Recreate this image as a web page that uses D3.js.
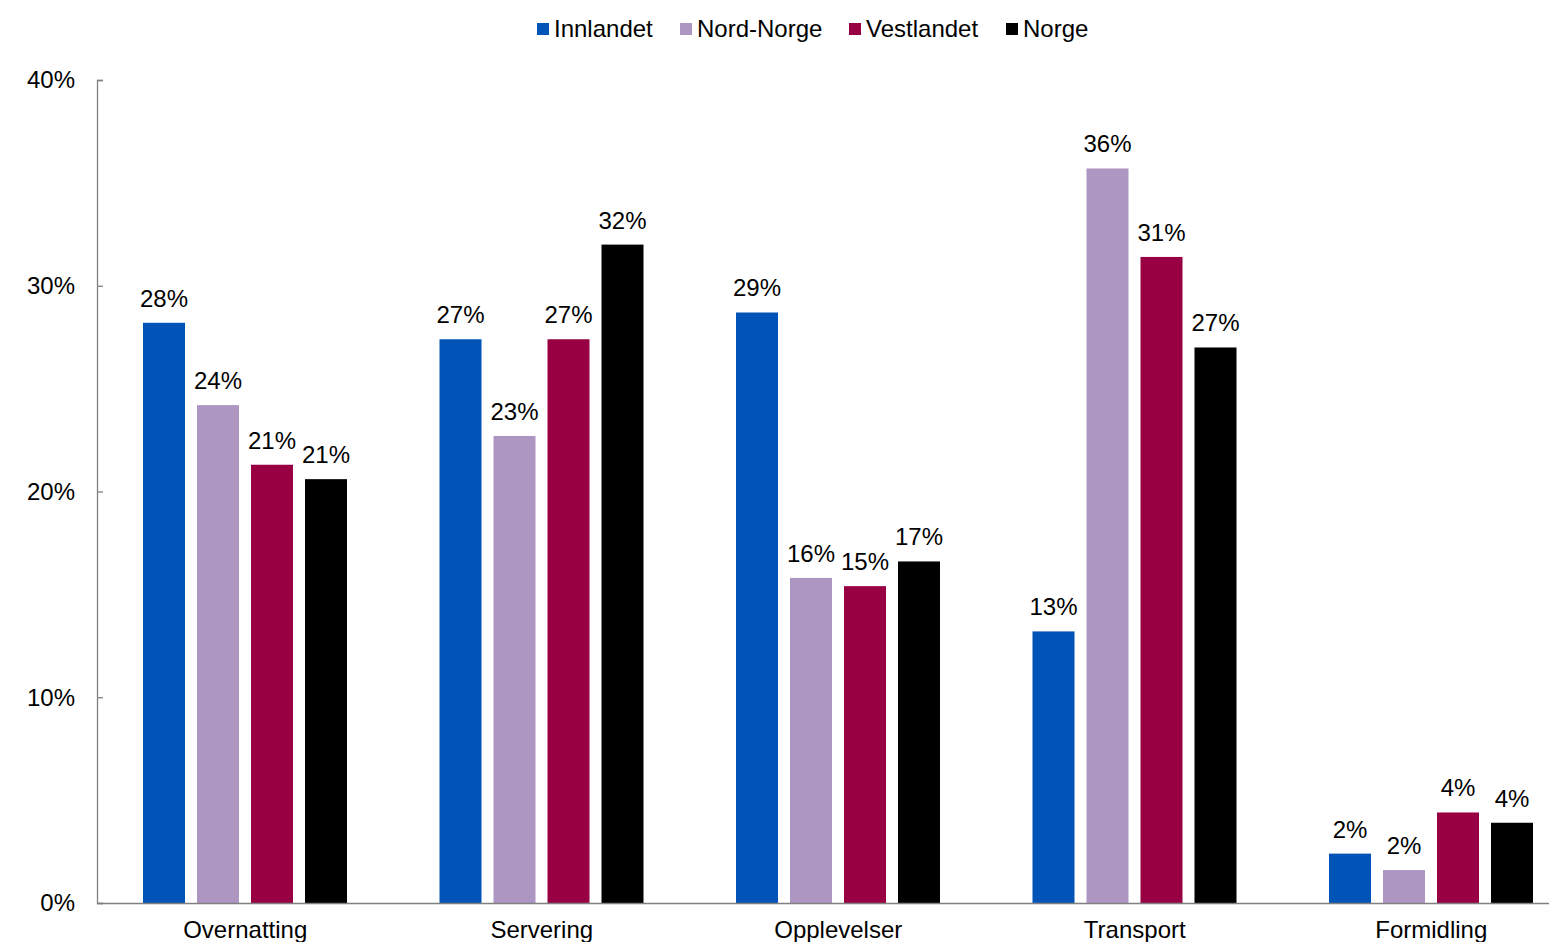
<!DOCTYPE html>
<html>
<head>
<meta charset="utf-8">
<script src="https://cdn.jsdelivr.net/npm/d3@7"></script>
<style>
  body { margin: 0; background: #fff; }
  text { font-family: "Liberation Sans", Arial, sans-serif; fill: #000; }
</style>
</head>
<body>
<script>
var categories = ["Overnatting", "Servering", "Opplevelser", "Transport", "Formidling"];
var seriesNames = ["Innlandet", "Nord-Norge", "Vestlandet", "Norge"];
var colors = ["#0054B8", "#AD96C2", "#990044", "#000000"];
var innlandet = [28.2, 27.4, 28.7, 13.2, 2.4];
var nordNorge = [24.2, 22.7, 15.8, 35.7, 1.6];
var vestlandet = [21.3, 27.4, 15.4, 31.4, 4.4];
var norge = [20.6, 32.0, 16.6, 27.0, 3.9];
var yTicks = [0, 10, 20, 30, 40];

var seriesValues = [innlandet, nordNorge, vestlandet, norge];

var width = 1549, height = 942;
var svg = d3.select("body").append("svg")
    .attr("width", width)
    .attr("height", height);

var x0 = d3.scaleBand()
    .domain(categories)
    .range([97, 97 + 5 * 296.5])
    .paddingInner(0)
    .paddingOuter(0);

var x1 = d3.scaleBand()
    .domain(seriesNames)
    .range([46, 250])
    .paddingInner(12 / 54)
    .paddingOuter(0);

var y = d3.scaleLinear()
    .domain([0, 40])
    .range([903, 80]);

// bars
var groups = svg.selectAll("g.cat")
    .data(categories)
    .enter()
    .append("g")
    .attr("class", "cat")
    .attr("transform", function(d) { return "translate(" + x0(d) + ",0)"; });

groups.selectAll("rect")
    .data(function(d, i) {
        return seriesNames.map(function(s, j) {
            return { series: s, value: seriesValues[j][i], color: colors[j] };
        });
    })
    .enter()
    .append("rect")
    .attr("x", function(d) { return x1(d.series); })
    .attr("width", x1.bandwidth())
    .attr("y", function(d) { return y(d.value); })
    .attr("height", function(d) { return y(0) - y(d.value); })
    .attr("fill", function(d) { return d.color; });

groups.selectAll("text.lbl")
    .data(function(d, i) {
        return seriesNames.map(function(s, j) {
            return { series: s, value: seriesValues[j][i] };
        });
    })
    .enter()
    .append("text")
    .attr("class", "lbl")
    .attr("x", function(d) { return x1(d.series) + x1.bandwidth() / 2; })
    .attr("y", function(d) { return y(d.value) - 16; })
    .attr("text-anchor", "middle")
    .style("font-size", "24px")
    .text(function(d) { return Math.round(d.value) + "%"; });

// y axis
var yAxis = d3.axisRight(y)
    .tickValues(yTicks)
    .tickSize(6)
    .tickFormat("");
var gy = svg.append("g")
    .attr("transform", "translate(97,0)")
    .call(yAxis);
gy.select(".domain").attr("stroke", "#808080").attr("stroke-width", 1.3);
gy.selectAll(".tick line").attr("stroke", "#808080").attr("stroke-width", 1.3);

svg.selectAll("text.ytick")
    .data(yTicks)
    .enter()
    .append("text")
    .attr("class", "ytick")
    .attr("x", 75)
    .attr("y", function(d) { return y(d); })
    .attr("dy", "0.35em")
    .attr("text-anchor", "end")
    .style("font-size", "24px")
    .text(function(d) { return d + "%"; });

// x axis
var xAxis = d3.axisBottom(x0).tickSize(0).tickFormat("");
var gx = svg.append("g")
    .attr("transform", "translate(0,903)")
    .call(xAxis);
gx.select(".domain").attr("stroke", "#808080").attr("stroke-width", 1.5);

svg.selectAll("text.xcat")
    .data(categories)
    .enter()
    .append("text")
    .attr("class", "xcat")
    .attr("x", function(d) { return x0(d) + x0.bandwidth() / 2; })
    .attr("y", 938)
    .attr("text-anchor", "middle")
    .style("font-size", "24px")
    .text(function(d) { return d; });

// legend
var legendX = [537, 680, 849, 1006];
var legend = svg.selectAll("g.leg")
    .data(seriesNames)
    .enter()
    .append("g")
    .attr("class", "leg")
    .attr("transform", function(d, i) { return "translate(" + legendX[i] + ",23)"; });
legend.append("rect")
    .attr("width", 12)
    .attr("height", 12)
    .attr("fill", function(d, i) { return colors[i]; });
legend.append("text")
    .attr("x", 17)
    .attr("y", 14)
    .style("font-size", "24px")
    .text(function(d) { return d; });
</script>
</body>
</html>
